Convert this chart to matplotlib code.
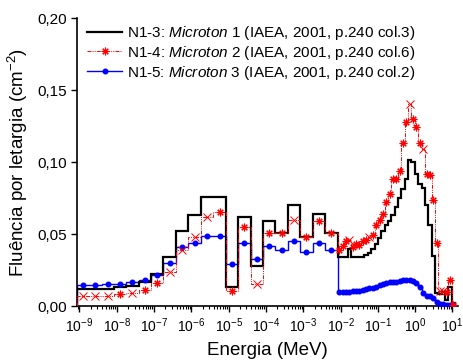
import matplotlib
matplotlib.use('Agg')
import matplotlib.pyplot as plt
import numpy as np

plt.rcParams['font.family'] = ['Liberation Sans', 'DejaVu Sans']
plt.rcParams['mathtext.fontset'] = 'custom'
plt.rcParams['mathtext.rm'] = 'Liberation Sans'
plt.rcParams['mathtext.it'] = 'Liberation Sans:italic'

# energy bin edges, log10(E / MeV): coarse part then fine part
coarse_log_edges = [-9.08, -8.75, -8.41, -8.08, -7.75, -7.41, -7.08, -6.75, -6.41, -6.08,
                    -5.75, -5.41, -5.08, -4.75, -4.41, -4.08, -3.75, -3.41, -3.08, -2.75,
                    -2.41, -2.08]
fine_log_edges = [-2.08, -1.99, -1.90, -1.81, -1.72, -1.63, -1.54, -1.45, -1.36, -1.27,
                  -1.18, -1.09, -1.00, -0.91, -0.82, -0.73, -0.64, -0.55, -0.46, -0.37,
                  -0.28, -0.19, -0.10, -0.01, 0.08, 0.17, 0.26, 0.35, 0.44, 0.53,
                  0.62, 0.71, 0.80, 0.89, 0.98, 1.07]

# fluence per lethargy (cm^-2)
black_coarse = [0.0115, 0.0117, 0.0121, 0.0130, 0.0139, 0.0167, 0.0222, 0.0338, 0.0523, 0.0632,
                0.0759, 0.0759, 0.0135, 0.0615, 0.0275, 0.0592, 0.0505, 0.0703, 0.0480, 0.0642,
                0.0505]
black_fine = [0.0338, 0.0338, 0.0338, 0.0394, 0.0338, 0.0338, 0.0340, 0.0343, 0.0354, 0.0370,
              0.0394, 0.0430, 0.0470, 0.0520, 0.0560, 0.0590, 0.0632, 0.0690, 0.0750, 0.0810,
              0.0880, 0.1017, 0.1000, 0.0920, 0.0850, 0.0817, 0.0700, 0.0560, 0.0350, 0.0090,
              0.0085, 0.0095, 0.0045, 0.0130, 0.0020]
red_coarse = [0.0069, 0.0072, 0.0072, 0.0081, 0.0088, 0.0111, 0.0158, 0.0238, 0.0390, 0.0481,
              0.0620, 0.0655, 0.0106, 0.0547, 0.0150, 0.0510, 0.0510, 0.0600, 0.0480, 0.0590,
              0.0505]
red_fine = [0.0390, 0.0420, 0.0450, 0.0460, 0.0410, 0.0430, 0.0425, 0.0450, 0.0460, 0.0480,
            0.0495, 0.0560, 0.0600, 0.0640, 0.0720, 0.0780, 0.0880, 0.0880, 0.0940, 0.1130,
            0.1280, 0.1400, 0.1300, 0.1240, 0.1130, 0.1090, 0.0920, 0.0910, 0.0736, 0.0440,
            0.0105, 0.0105, 0.0100, 0.0180, 0.0010]
blue_coarse = [0.0146, 0.0146, 0.0150, 0.0153, 0.0164, 0.0181, 0.0215, 0.0296, 0.0412, 0.0440,
               0.0486, 0.0486, 0.0290, 0.0435, 0.0324, 0.0419, 0.0389, 0.0454, 0.0377, 0.0440,
               0.0389]
blue_fine = [0.0099, 0.0099, 0.0100, 0.0100, 0.0101, 0.0103, 0.0106, 0.0110, 0.0115, 0.0122,
             0.0128, 0.0134, 0.0146, 0.0156, 0.0160, 0.0165, 0.0169, 0.0170, 0.0172, 0.0178,
             0.0180, 0.0180, 0.0176, 0.0160, 0.0130, 0.0090, 0.0068, 0.0072, 0.0055, 0.0030,
             0.0015, 0.0012, 0.0010, 0.0010, 0.0010]

labels = ['N1-3: $\\it{Microton}$ 1 (IAEA, 2001, p.240 col.3)',
          'N1-4: $\\it{Microton}$ 2 (IAEA, 2001, p.240 col.6)',
          'N1-5: $\\it{Microton}$ 3 (IAEA, 2001, p.240 col.2)']

# bins where the red symbol shows as a plain cross
red_cross_bins = [0, 1, 2, 4, 7, 8, 9, 10, 14, 17, 24, 30, 42, 46, 51, 52]

edges = 10 ** np.array(coarse_log_edges + fine_log_edges[1:])
centers = np.sqrt(edges[:-1] * edges[1:])
black = np.array(black_coarse + black_fine)
red = np.array(red_coarse + red_fine)
blue = np.array(blue_coarse + blue_fine)

red_ls = (0, (4, 1.2, 1, 1.2, 1, 1.2))

fig = plt.figure(figsize=(4.63, 3.63), dpi=100)
ax = fig.add_axes([77 / 463, 57 / 363, 381 / 463, 288 / 363])

ax.stairs(black, edges, color='black', lw=1.6, zorder=3)
ax.stairs(red, edges, color='red', lw=0.7, linestyle=red_ls, zorder=4)
ax.stairs(blue, edges, color='blue', lw=1.0, zorder=2)

cross = np.zeros(len(red), dtype=bool)
cross[red_cross_bins] = True
ax.plot(centers[cross], red[cross], ls='none', marker='x', ms=6, mew=0.7, color='red', zorder=5)
ax.plot(centers[~cross], red[~cross], ls='none', marker=(8, 2, 0), ms=5.5, mew=0.8, color='red', zorder=5)
ax.plot(centers, blue, ls='none', marker='o', ms=3.3, color='blue', zorder=4)

# legend proxies
h1, = ax.plot([], [], color='black', lw=1.6)
h2, = ax.plot([], [], color='red', lw=0.7, linestyle=red_ls, marker=(8, 2, 0), ms=5.5, mew=0.8)
h3, = ax.plot([], [], color='blue', lw=1.0, marker='o', ms=3.3)
ax.legend([h1, h2, h3], labels, loc='upper left', bbox_to_anchor=(87 / 463, 1 - 24 / 363),
          bbox_transform=fig.transFigure, frameon=False, fontsize=11, handlelength=2.3,
          handletextpad=0.35, labelspacing=0.12, borderpad=0, borderaxespad=0, numpoints=1)

ax.set_xscale('log')
ax.set_xlim(10 ** -9.067, 10 ** 1.148)
ax.set_ylim(0, 0.20)
ax.set_xticks([10.0 ** k for k in range(-9, 2)])
ax.xaxis.set_minor_locator(matplotlib.ticker.LogLocator(base=10, subs=np.arange(2, 10), numticks=30))
ax.xaxis.set_minor_formatter(matplotlib.ticker.NullFormatter())
ax.set_yticks([0, 0.05, 0.10, 0.15, 0.20])
ax.set_yticklabels(['0,00', '0,05', '0,10', '0,15', '0,20'])

for s in ['top', 'right']:
    ax.spines[s].set_visible(False)
for s in ['left', 'bottom']:
    ax.spines[s].set_linewidth(1.2)
ax.tick_params(axis='both', which='major', direction='out', length=4, width=1)
ax.tick_params(axis='x', which='major', labelsize=10)
ax.tick_params(axis='y', which='major', labelsize=11)
ax.tick_params(axis='x', which='minor', direction='out', length=2, width=0.8)

ax.set_xlabel('Energia (MeV)', fontsize=13.5, labelpad=5)
ax.set_ylabel('Fluência por letargia (cm$^{-2}$)', fontsize=13.5, labelpad=5)

fig.savefig('out.png', dpi=100)
